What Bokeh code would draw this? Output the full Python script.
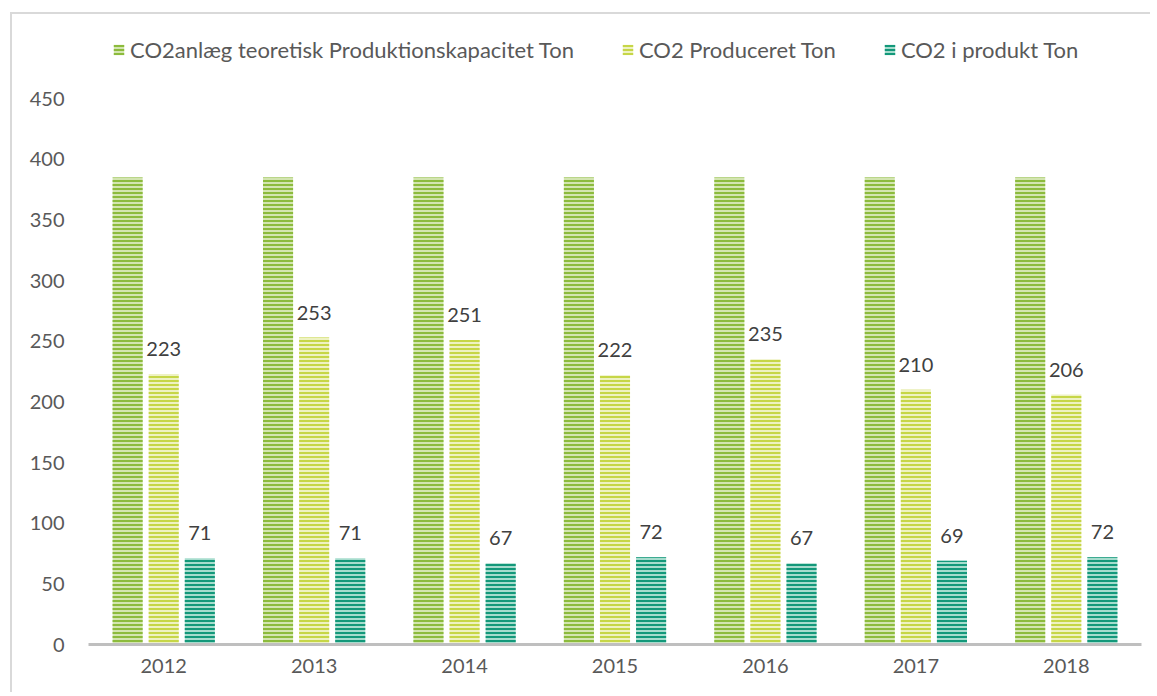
from bokeh.plotting import figure
from bokeh.models import ColumnDataSource, FactorRange, Legend, LegendItem
from bokeh.transform import dodge
from bokeh.core.properties import value
from bokeh.embed import file_html
from bokeh.resources import INLINE

# ---- data ----
years = ["2012", "2013", "2014", "2015", "2016", "2017", "2018"]
capacity = [385, 385, 385, 385, 385, 385, 385]
produced = [223, 253, 251, 222, 235, 210, 206]
in_product = [71, 71, 67, 72, 67, 69, 72]
series_names = ["CO2anlæg teoretisk Produktionskapacitet Ton",
                "CO2 Produceret Ton",
                "CO2 i produkt Ton"]
y_ticks = [0, 50, 100, 150, 200, 250, 300, 350, 400, 450]

source = ColumnDataSource(dict(
    year=years, cap=capacity, prod=produced, inprod=in_product,
    prod_lbl=[str(v) for v in produced],
    inprod_lbl=[str(v) for v in in_product],
))

FONT = "Lato"
# frame extends above 450 (no ticks there) so the legend can sit inside it
p = figure(x_range=FactorRange(*years, range_padding=0), y_range=(0, 514.3),
           width=1140, height=680, output_backend="svg", toolbar_location=None,
           min_border_left=76, min_border_right=11, min_border_top=6, min_border_bottom=50)
p.styles = {"border-top": "2px solid #d9d9d9", "border-left": "2px solid #d9d9d9",
            "margin-top": "12px", "margin-left": "10px"}
p.outline_line_color = None
p.background_fill_color = "white"
p.border_fill_color = "white"

styles = [
    ("#d3e5b0", "#8cbb3c", -0.24, "cap"),
    ("#eef2c2", "#c6d647", 0.0, "prod"),
    ("#a6dccd", "#13987a", 0.24, "inprod"),
]
renderers = []
for fill, hatch, off, col in styles:
    r = p.vbar(x=dodge("year", off, range=p.x_range), top=col, width=0.2, source=source,
               fill_color=fill, line_color=None, hatch_pattern="horizontal_line",
               hatch_color=hatch, hatch_scale=4, hatch_weight=2)
    renderers.append(r)

for off, col, lbl in [(0.0, "prod", "prod_lbl"), (0.24, "inprod", "inprod_lbl")]:
    p.text(x=dodge("year", off, range=p.x_range), y=col, text=lbl, source=source,
           text_align="center", text_baseline="alphabetic", y_offset=-25,
           text_font=value(FONT), text_font_size="20px", text_color="#404040")

legend = Legend(items=[LegendItem(label=n, renderers=[r]) for n, r in zip(series_names, renderers)],
                orientation="horizontal", location=(24, 581),
                padding=0, margin=0, spacing=47, label_standoff=5,
                glyph_width=13, glyph_height=13,
                label_text_font=FONT, label_text_font_size="22px", label_text_color="#595959",
                border_line_color=None, background_fill_alpha=0)
p.add_layout(legend, "center")

p.xgrid.grid_line_color = None
p.ygrid.grid_line_color = None

p.yaxis.ticker = y_ticks
p.yaxis.axis_line_color = None
p.yaxis.major_tick_line_color = None
p.yaxis.minor_tick_line_color = None
p.yaxis.major_tick_out = 0
p.yaxis.major_label_standoff = 24
p.yaxis.major_label_text_font = FONT
p.yaxis.major_label_text_font_size = "20px"
p.yaxis.major_label_text_color = "#595959"

p.xaxis.axis_line_color = "#bfbfbf"
p.xaxis.axis_line_width = 3
p.xaxis.major_tick_line_color = None
p.xaxis.minor_tick_line_color = None
p.xaxis.major_tick_out = 0
p.xaxis.major_label_standoff = 14
p.xaxis.major_label_text_font = FONT
p.xaxis.major_label_text_font_size = "20px"
p.xaxis.major_label_text_color = "#595959"

open("out.html", "w").write(file_html(p, INLINE))
